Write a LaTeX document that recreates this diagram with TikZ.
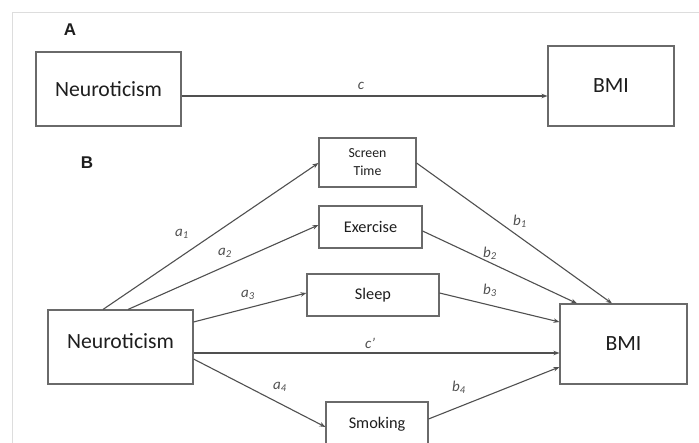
\documentclass[tikz,border=0pt]{standalone}
\usepackage{fontspec}
\setmainfont{Carlito}
\newfontfamily\panelfont{Liberation Sans}
\usetikzlibrary{arrows.meta,calc}
\definecolor{edgegrey}{HTML}{505050}
\definecolor{boxgrey}{HTML}{6A6A6A}
\definecolor{framegrey}{HTML}{DDDDDD}
\definecolor{txt}{HTML}{1E1E1E}
\begin{document}
\begin{tikzpicture}[x=1pt,y=-1pt,
  vbox/.style={draw=boxgrey,line width=1.1pt,fill=white,inner sep=0pt,align=center,text=txt},
  bigbox/.style={vbox,font=\fontsize{21.7}{26}\selectfont},
  midbox/.style={vbox,font=\fontsize{16.3}{19}\selectfont},
  smallbox/.style={vbox,font=\fontsize{13.8}{18}\selectfont},
  path/.style={draw=edgegrey,line width=1.1pt,-{Stealth[length=6pt,width=4.5pt]}},
  coef/.style={text=edgegrey,font=\fontsize{15}{17}\selectfont\itshape,inner sep=0pt},
  panel/.style={text=txt,font=\panelfont\fontsize{17}{20}\selectfont\bfseries,inner sep=0pt}]
\useasboundingbox (0,0) rectangle (699,443);
\fill[white] (0,0) rectangle (699,443);
\draw[framegrey,line width=1pt] (12,443) -- (12,13) -- (699,13);
% panel A
\node[panel] (la) at (70,30) {A};
\node[bigbox,minimum width=145pt,minimum height=74pt] (na) at (108.5,89) {Neuroticism};
\node[bigbox,minimum width=126pt,minimum height=80pt] (ba) at (611,86) {BMI};
\node[coef] (lc) at (361,86) {c};
\draw[path] (na.east |- 0,96) -- (ba.west |- 0,96);
% panel B
\node[panel] (lb) at (87,163) {B};
\node[smallbox,minimum width=97pt,minimum height=49pt] (st) at (367.5,162.5) {Screen\\Time};
\node[midbox,minimum width=103pt,minimum height=42pt] (ex) at (370.5,227) {Exercise};
\node[midbox,minimum width=132pt,minimum height=42pt] (sl) at (373,295) {Sleep};
\node[midbox,minimum width=102pt,minimum height=44pt] (sm) at (377,424) {Smoking};
\node[bigbox,minimum width=127pt,minimum height=80pt] (bb) at (623.5,344) {BMI};
\node[bigbox,minimum width=145pt,minimum height=74pt,text depth=12pt] (nb) at (120.5,347) {Neuroticism};
\draw[path] (nb.north -| 103,0) -- (st.west |- 0,163);
\draw[path] (nb.north -| 128,0) -- (ex.west |- 0,225);
\draw[path] (nb.east |- 0,322) -- (sl.west |- 0,293);
\draw[path] (nb.east |- 0,353) -- (bb.west |- 0,353);
\draw[path] (nb.east |- 0,359) -- (sm.west |- 0,427);
\draw[path] (st.east |- 0,163) -- (bb.north -| 612,0);
\draw[path] (ex.east |- 0,231) -- (bb.north -| 577,0);
\draw[path] (sl.east |- 0,293) -- (bb.west |- 0,322);
\draw[path] (sm.east |- 0,419) -- (bb.west |- 0,367);
% coefficients
\node[coef] (ca1) at (182,234) {a\textsubscript{1}};
\node[coef] (ca2) at (225,253) {a\textsubscript{2}};
\node[coef] (ca3) at (248,295) {a\textsubscript{3}};
\node[coef] (ca4) at (280,387) {a\textsubscript{4}};
\node[coef] (cb1) at (520,221) {b\textsubscript{1}};
\node[coef] (cb2) at (490,253) {b\textsubscript{2}};
\node[coef] (cb3) at (490,290) {b\textsubscript{3}};
\node[coef] (cb4) at (459,387) {b\textsubscript{4}};
\node[coef] (ccp) at (370,343) {c’};
\end{tikzpicture}
\end{document}
